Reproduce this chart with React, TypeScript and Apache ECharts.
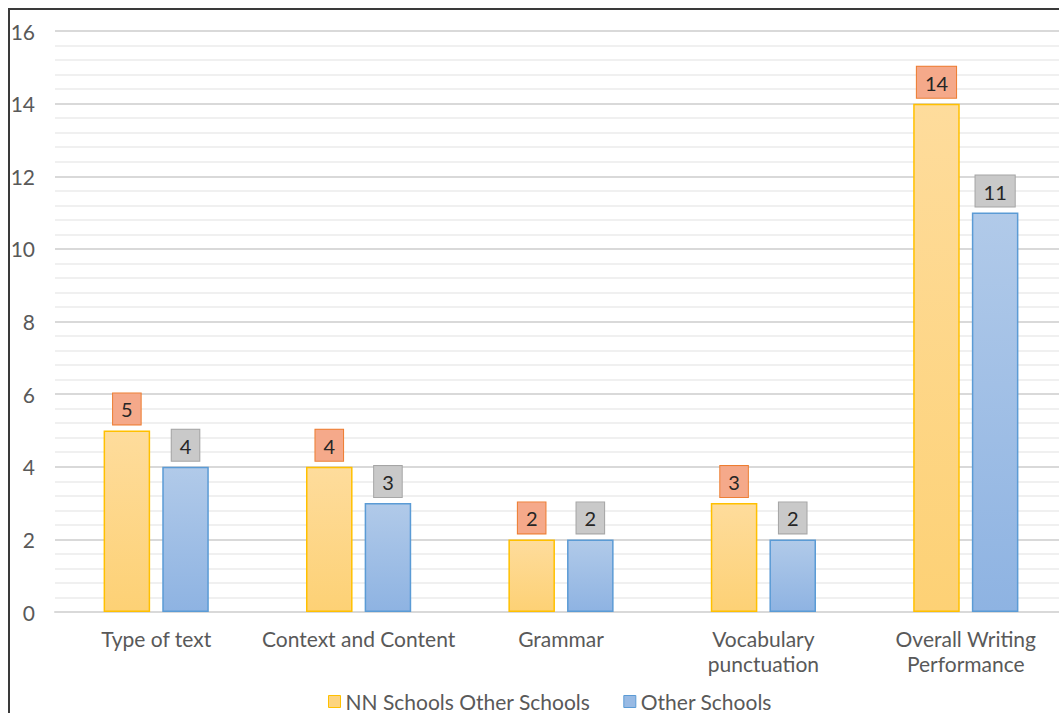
import React, { useEffect, useRef } from "react";
import * as echarts from "echarts";

const categories = [
  "Type of text",
  "Context and Content",
  "Grammar",
  "Vocabulary\npunctuation",
  "Overall Writing\nPerformance",
];
const nnSchools = [5, 4, 2, 3, 14];
const otherSchools = [4, 3, 2, 2, 11];
const seriesNames = ["NN Schools Other Schools", "Other Schools"];

const FONT = "Lato";

export default function App() {
  const ref = useRef<HTMLDivElement>(null);
  useEffect(() => {
    document.body.style.margin = "0";
    const chart = echarts.init(ref.current!, undefined, { renderer: "svg" });
    const yellow = new echarts.graphic.LinearGradient(0, 0, 0, 1, [
      { offset: 0, color: "#FEDC9C" },
      { offset: 1, color: "#FDD175" },
    ]);
    const blue = new echarts.graphic.LinearGradient(0, 0, 0, 1, [
      { offset: 0, color: "#B1CAE9" },
      { offset: 1, color: "#8EB3E2" },
    ]);
    const labelBase = {
      show: true,
      position: "top",
      distance: 6,
      fontFamily: FONT,
      fontSize: 20,
      color: "#262626",
      borderWidth: 1,
      padding: [6, 8, 5, 8],
    };
    chart.setOption({
      animation: false,
      backgroundColor: "#fff",
      textStyle: { fontFamily: FONT },
      graphic: [
        {
          type: "rect",
          shape: { x: 9, y: 9, width: 1200, height: 900 },
          style: { fill: "none", stroke: "#3a3a3a", lineWidth: 2 },
          silent: true,
        },
      ],
      grid: { left: 55, top: 31, width: 1012, height: 581, outerBoundsMode: "none", containLabel: false },
      legend: {
        left: 323,
        top: 686,
        itemWidth: 12,
        itemHeight: 12,
        itemGap: 33,
        icon: "rect",
        textStyle: { fontFamily: FONT, fontSize: 21, color: "#595959" },
        data: [
          { name: seriesNames[0], itemStyle: { color: "#FDD47F", borderColor: "#FFC000", borderWidth: 1 } },
          { name: seriesNames[1], itemStyle: { color: "#98BAE4", borderColor: "#5B9BD5", borderWidth: 1 } },
        ],
      },
      xAxis: {
        type: "category",
        data: categories,
        axisLine: { show: true, lineStyle: { color: "#D9D9D9", width: 2 } },
        axisTick: { show: false },
        axisLabel: {
          fontFamily: FONT,
          fontSize: 21,
          color: "#595959",
          margin: 14,
          lineHeight: 25,
          interval: 0,
        },
      },
      yAxis: {
        type: "value",
        min: 0,
        max: 16,
        interval: 2,
        axisLine: { show: false },
        axisTick: { show: false },
        axisLabel: { fontFamily: FONT, fontSize: 21, color: "#595959", margin: 20 },
        splitLine: { show: true, lineStyle: { color: "#D9D9D9", width: 2 } },
        minorTick: { show: false, splitNumber: 5 },
        minorSplitLine: { show: true, lineStyle: { color: "#F0F0F0", width: 2 } },
      },
      series: [
        {
          name: seriesNames[0],
          type: "bar",
          data: nnSchools,
          barWidth: "23%",
          barGap: "26%",
          itemStyle: { color: yellow, borderColor: "#FFC000", borderWidth: 1.5 },
          label: { ...labelBase, backgroundColor: "#F5A98A", borderColor: "#ED7D31" },
        },
        {
          name: seriesNames[1],
          type: "bar",
          data: otherSchools,
          barWidth: "23%",
          barGap: "26%",
          itemStyle: { color: blue, borderColor: "#5B9BD5", borderWidth: 1.5 },
          label: { ...labelBase, backgroundColor: "#C9C9C9", borderColor: "#A5A5A5" },
        },
      ],
    });
    return () => chart.dispose();
  }, []);
  return (
    <div style={{ position: "fixed", left: 0, top: 0, width: 1059, height: 713, overflow: "hidden" }}>
      <div ref={ref} style={{ width: 1059, height: 713 }} />
    </div>
  );
}
